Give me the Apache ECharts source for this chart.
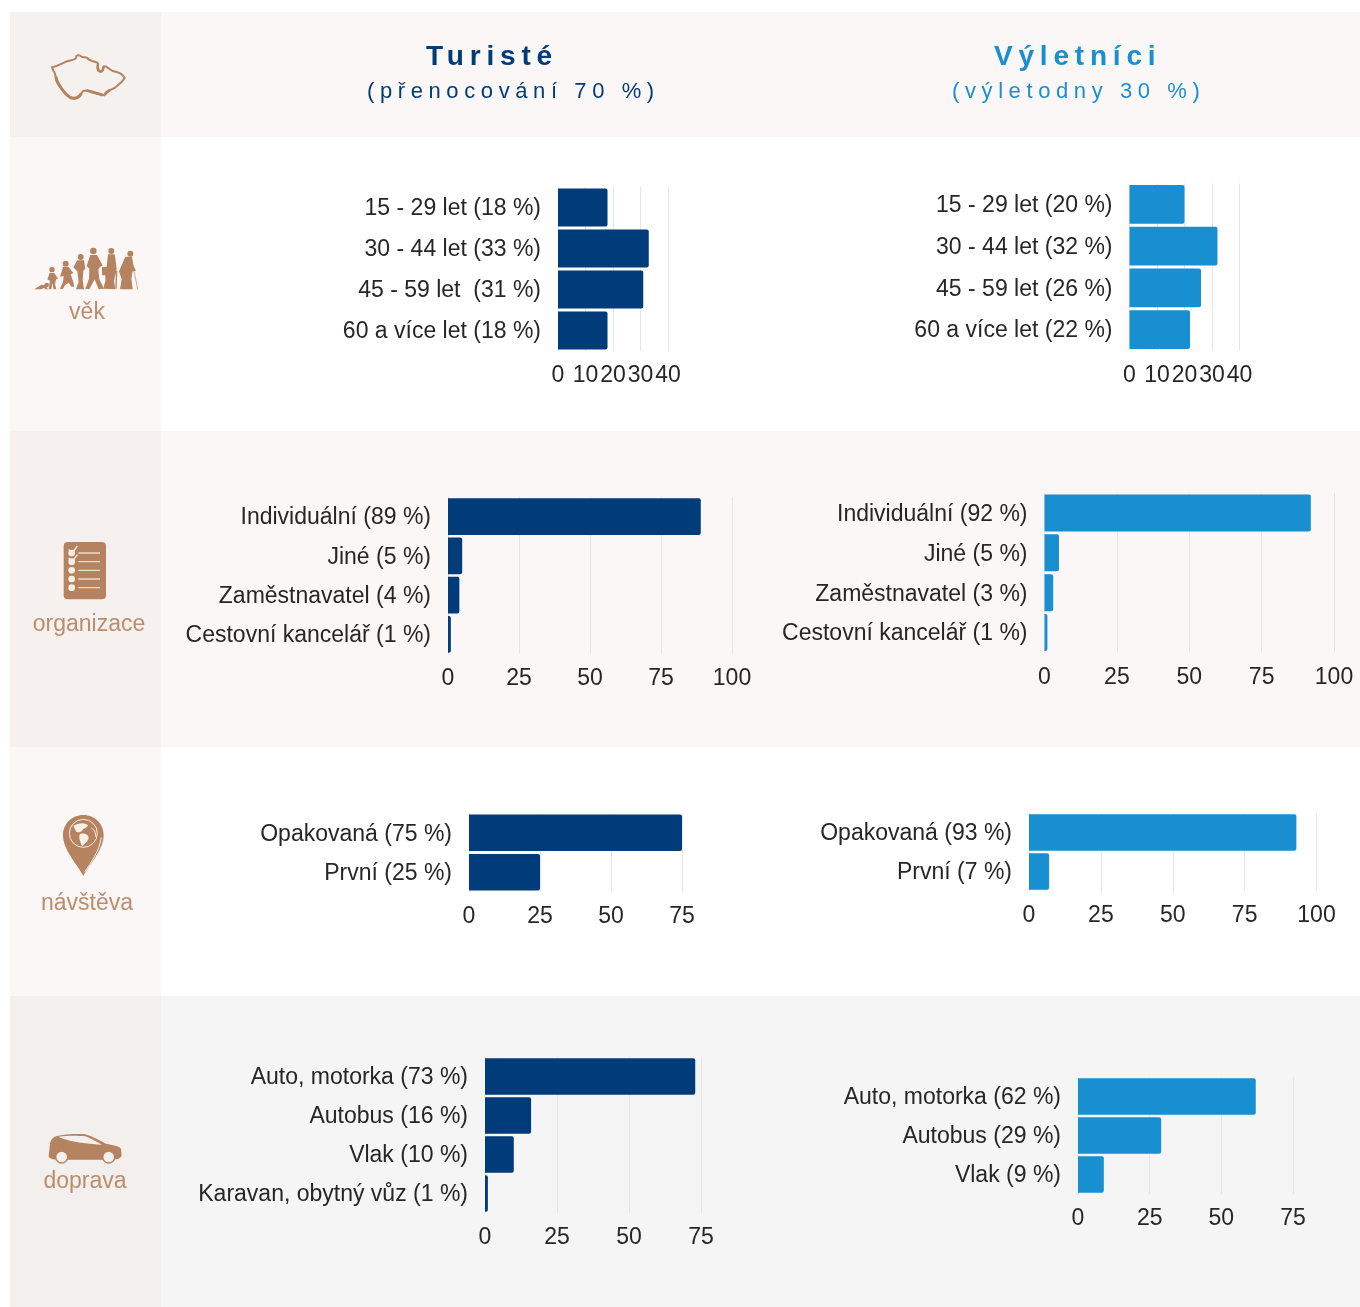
<!DOCTYPE html>
<html>
<head>
<meta charset="utf-8">
<title>Turisté a výletníci</title>
<script src="https://cdn.jsdelivr.net/npm/echarts@6/dist/echarts.min.js"></script>
<style>
  html, body { margin: 0; padding: 0; background: #fff; }
  #wrap { position: relative; width: 1360px; height: 1307px; overflow: hidden; font-family: "Liberation Sans", Arial, sans-serif; }
  #chart { position: absolute; left: 0; top: 0; width: 1360px; height: 1307px; }
  .head { position: absolute; white-space: nowrap; line-height: 1; }
  .head.big { font-size: 28px; font-weight: bold; letter-spacing: 5.8px; }
  .head.small { font-size: 22px; letter-spacing: 5.6px; }
</style>
</head>
<body>
<div id="wrap">
  <div id="chart"></div>
  <div class="head big" style="left:426px;top:42px;color:#003b7a">Turisté</div>
  <div class="head small" style="left:367px;top:80px;color:#003b7a">(přenocování 70 %)</div>
  <div class="head big" style="left:994px;top:42px;color:#178fd0">Výletníci</div>
  <div class="head small" style="left:952px;top:80px;color:#178fd0">(výletodny 30 %)</div>
</div>
<script>
// data
var vekTuristeCats = ["15 - 29 let (18 %)", "30 - 44 let (33 %)", "45 - 59 let  (31 %)", "60 a více let (18 %)"];
var vekTuriste = [18, 33, 31, 18];
var vekVyletCats = ["15 - 29 let (20 %)", "30 - 44 let (32 %)", "45 - 59 let (26 %)", "60 a více let (22 %)"];
var vekVylet = [20, 32, 26, 22];
var orgTuristeCats = ["Individuální (89 %)", "Jiné (5 %)", "Zaměstnavatel (4 %)", "Cestovní kancelář (1 %)"];
var orgTuriste = [89, 5, 4, 1];
var orgVyletCats = ["Individuální (92 %)", "Jiné (5 %)", "Zaměstnavatel (3 %)", "Cestovní kancelář (1 %)"];
var orgVylet = [92, 5, 3, 1];
var navTuristeCats = ["Opakovaná (75 %)", "První (25 %)"];
var navTuriste = [75, 25];
var navVyletCats = ["Opakovaná (93 %)", "První (7 %)"];
var navVylet = [93, 7];
var dopTuristeCats = ["Auto, motorka (73 %)", "Autobus (16 %)", "Vlak (10 %)", "Karavan, obytný vůz (1 %)"];
var dopTuriste = [73, 16, 10, 1];
var dopVyletCats = ["Auto, motorka (62 %)", "Autobus (29 %)", "Vlak (9 %)"];
var dopVylet = [62, 29, 9];

var DARK = "#003b7a", LIGHT = "#178fd0", BROWN = "#b5835f", LABEL = "#bb8d6d", TEXT = "#262626";

// one panel per small chart: x0/x1 = axis ends, top/h = plot box, gap = tick label offset
var panels = [
  { cats: vekTuristeCats, vals: vekTuriste, color: DARK, x0: 558, x1: 668, top: 187, h: 164, max: 40, step: 10, gap: 13.5 },
  { cats: vekVyletCats, vals: vekVylet, color: LIGHT, x0: 1129.5, x1: 1239.5, top: 183.5, h: 167, max: 40, step: 10, gap: 14 },
  { cats: orgTuristeCats, vals: orgTuriste, color: DARK, x0: 448, x1: 732, top: 497, h: 157, max: 100, step: 25, gap: 13 },
  { cats: orgVyletCats, vals: orgVylet, color: LIGHT, x0: 1044.5, x1: 1334, top: 493, h: 159.5, max: 100, step: 25, gap: 14 },
  { cats: navTuristeCats, vals: navTuriste, color: DARK, x0: 469, x1: 682, top: 813, h: 79, max: 75, step: 25, gap: 13 },
  { cats: navVyletCats, vals: navVylet, color: LIGHT, x0: 1029, x1: 1316.5, top: 813, h: 78, max: 100, step: 25, gap: 13 },
  { cats: dopTuristeCats, vals: dopTuriste, color: DARK, x0: 485, x1: 701, top: 1057, h: 156, max: 75, step: 25, gap: 13.5 },
  { cats: dopVyletCats, vals: dopVylet, color: LIGHT, x0: 1078, x1: 1293, top: 1077, h: 117, max: 75, step: 25, gap: 13 }
];

var grids = [], xAxes = [], yAxes = [], series = [];
panels.forEach(function (p, i) {
  grids.push({ left: p.x0, top: p.top, width: p.x1 - p.x0, height: p.h, containLabel: false });
  xAxes.push({
    type: "value", gridIndex: i, min: 0, max: p.max, interval: p.step,
    axisLine: { show: false }, axisTick: { show: false },
    axisLabel: { color: TEXT, fontSize: 23, fontFamily: "Liberation Sans", margin: p.gap },
    splitLine: { show: true, lineStyle: { color: "#e6e6e6", width: 1 } }
  });
  yAxes.push({
    type: "category", gridIndex: i, data: p.cats, inverse: true,
    axisLine: { show: false }, axisTick: { show: false },
    // top aligned with a tiny line height nudges the text just under the band centre
    axisLabel: { color: TEXT, fontSize: 23, fontFamily: "Liberation Sans", margin: 17, interval: 0, verticalAlign: "top", lineHeight: 3 }
  });
  series.push({
    type: "bar", xAxisIndex: i, yAxisIndex: i, data: p.vals, barCategoryGap: "7%",
    itemStyle: { color: p.color, borderRadius: [0, 2, 2, 0] }, silent: true
  });
});

function rect(x, y, w, h, fill) {
  return { type: "rect", z: -10, silent: true, shape: { x: x, y: y, width: w, height: h }, style: { fill: fill } };
}
function side(text, x, y) {
  return { type: "text", x: x, y: y, silent: true, style: { text: text, fill: LABEL, font: '23px "Liberation Sans"', textAlign: "center", textVerticalAlign: "middle" } };
}
var shapeCount = 0;
function p(d, fill, stroke, w) {
  var name = "iconPath" + (shapeCount++);
  echarts.graphic.registerShape(name, echarts.graphic.extendPath(d, {}));
  return { type: name, silent: true, style: { fill: fill || "none", stroke: stroke || "none", lineWidth: w || 0 } };
}
function c(x, y, r, fill, stroke, w) {
  return { type: "circle", silent: true, shape: { cx: x, cy: y, r: r }, style: { fill: fill || "none", stroke: stroke || "none", lineWidth: w || 0 } };
}
// icons are traced in 3x crop coordinates, the group scales them down
function icon(ox, oy, kids) {
  return { type: "group", x: ox, y: oy, scaleX: 1 / 3, scaleY: 1 / 3, silent: true, children: kids };
}

var czIcon = icon(20, 30, [
  p("M96,112 C115,108 125,100 140,94 C150,90 162,92 168,84 C168,74 176,74 182,78 C186,86 196,78 202,84 C208,94 220,92 232,98 C238,104 228,112 236,122 C244,128 250,122 250,110 C258,104 266,118 276,122 C288,128 302,122 314,144 C306,158 296,164 286,172 C274,180 262,180 252,196 C240,194 226,188 212,186 C200,180 190,178 184,190 C178,204 162,208 150,202 C134,192 120,170 112,158 C104,146 110,130 100,122 Z", "none", BROWN, 6),
  p("M108,140 C110,160 134,192 150,202 C162,208 178,204 184,190", "none", BROWN, 9),
  p("M232,100 C238,104 228,112 236,122 C244,128 250,122 250,112", "none", BROWN, 8),
  p("M270,180 C262,184 256,190 252,196 M200,181 C215,186 235,190 248,196", "none", BROWN, 8)
]);

var vekIcon = icon(20, 30, [
  // crawling baby
  c(80, 765, 7, BROWN),
  p("M42,778 L54,771 L64,764 L76,766 L80,772 L84,778 L76,778 L72,773 L64,778 Z", BROWN),
  // toddler
  c(96, 719, 8, BROWN),
  p("M89,729 L103,729 L114,746 L108,748 L105,762 L109,778 L101,778 L97,758 L94,778 L86,778 L90,752 L82,748 Z", BROWN),
  // girl
  c(137, 701, 9, BROWN),
  p("M129,711 L146,711 L160,729 L152,733 L160,756 L163,770 L154,770 L146,758 L135,766 L128,778 L120,776 L129,756 L131,738 L120,740 Z", BROWN),
  // teen
  c(182, 681, 9, BROWN),
  p("M172,691 L192,691 L196,716 L190,722 L188,750 L192,778 L168,778 L176,756 L172,724 L160,712 Z", BROWN),
  // adult
  c(220, 663, 10, BROWN),
  p("M211,675 L231,675 L248,706 L240,711 L235,718 L238,748 L252,776 L236,778 L224,748 L208,778 L196,776 L207,746 L208,716 L200,708 Z", BROWN),
  // woman with bag
  c(274, 663, 9, BROWN),
  p("M264,673 L284,673 L288,700 L290,718 L282,752 L286,778 L250,776 L256,752 L256,736 L246,736 L246,712 L260,710 Z", BROWN),
  p("M288,722 L292,722 L290,776 L286,776 Z", BROWN),
  // elder with cane
  c(331, 671, 9, BROWN),
  p("M316,680 L336,680 L341,708 L348,722 L338,724 L334,746 L338,778 L300,778 L305,748 L297,724 Z", BROWN),
  p("M342,722 L353,778", "none", BROWN, 2)
]);

var orgIcon = icon(20, 530, [
  { type: "rect", silent: true, shape: { x: 131, y: 36, width: 127, height: 172, r: 12 }, style: { fill: BROWN } },
  c(155, 69, 10, "#f8efe9"), c(155, 95, 10, "#f8efe9"), c(155, 121, 10, "#f8efe9"), c(155, 147, 10, "#f8efe9"), c(155, 173, 10, "#f8efe9"),
  p("M146,58 L156,70 L172,48", "none", "#f8efe9", 4),
  p("M146,84 L156,96 L172,74", "none", "#f8efe9", 4),
  p("M175,69 L240,69 M175,95 L240,95 M175,121 L240,121 M175,147 L240,147 M175,173 L240,173", "none", "#ecdccf", 4)
]);

var navIcon = icon(20, 800, [
  p("M190,45 C225,45 251,72 251,105 C251,150 210,190 190,228 C170,190 129,150 129,105 C129,72 155,45 190,45 Z", BROWN),
  c(190, 100, 42, "none", "#f8efe9", 3),
  p("M160,78 C172,68 196,66 204,76 C200,86 190,84 186,92 C178,100 168,98 166,90 Z", "#f8efe9"),
  p("M180,102 C192,98 206,104 206,114 C204,124 192,134 186,138 C182,128 174,112 180,102 Z", "#f8efe9"),
  p("M214,84 C224,90 228,100 226,110", "none", "#f8efe9", 3),
  p("M244,112 C238,155 212,188 194,216", "none", "#f8efe9", 3)
]);

var carIcon = icon(20, 800, [
  p("M86,1068 L90,1032 C92,1018 102,1010 112,1008 C140,1002 172,1001 196,1003 C220,1010 240,1022 258,1031 C278,1035 296,1038 303,1046 L305,1066 C302,1076 292,1079 280,1079 L110,1079 C98,1079 88,1076 86,1068 Z", BROWN),
  p("M116,1010 C150,1006 180,1007 196,1009 C212,1015 232,1026 246,1034 C210,1032 165,1026 150,1022 C138,1018 124,1016 116,1010 Z", "#f3efec"),
  c(125, 1071, 17, "#f3efec", "#f3efec", 0),
  c(125, 1071, 18, "none", BROWN, 4),
  c(266, 1071, 17, "#f3efec", "#f3efec", 0),
  c(266, 1071, 18, "none", BROWN, 4)
]);

var chart = echarts.init(document.getElementById("chart"), null, { renderer: "canvas" });
chart.setOption({
  animation: false,
  backgroundColor: "#ffffff",
  textStyle: { fontFamily: "Liberation Sans" },
  grid: grids,
  xAxis: xAxes,
  yAxis: yAxes,
  series: series,
  graphic: [
    rect(161, 12, 1199, 125, "#fbf7f6"), rect(10, 12, 151, 125, "#f5f1ee"),
    rect(10, 137, 151, 294, "#fbf7f6"),
    rect(161, 431, 1199, 316, "#fbf7f6"), rect(10, 431, 151, 316, "#f6f1ee"),
    rect(10, 747, 151, 249, "#fbf7f6"),
    rect(161, 996, 1199, 311, "#f5f5f5"), rect(10, 996, 151, 311, "#f3efec"),
    czIcon, vekIcon, orgIcon, navIcon, carIcon,
    side("věk", 87, 313), side("organizace", 89, 625), side("návštěva", 87, 904), side("doprava", 85, 1182)
  ]
});
window.addEventListener("resize", function () { chart.resize(); });
</script>
</body>
</html>
